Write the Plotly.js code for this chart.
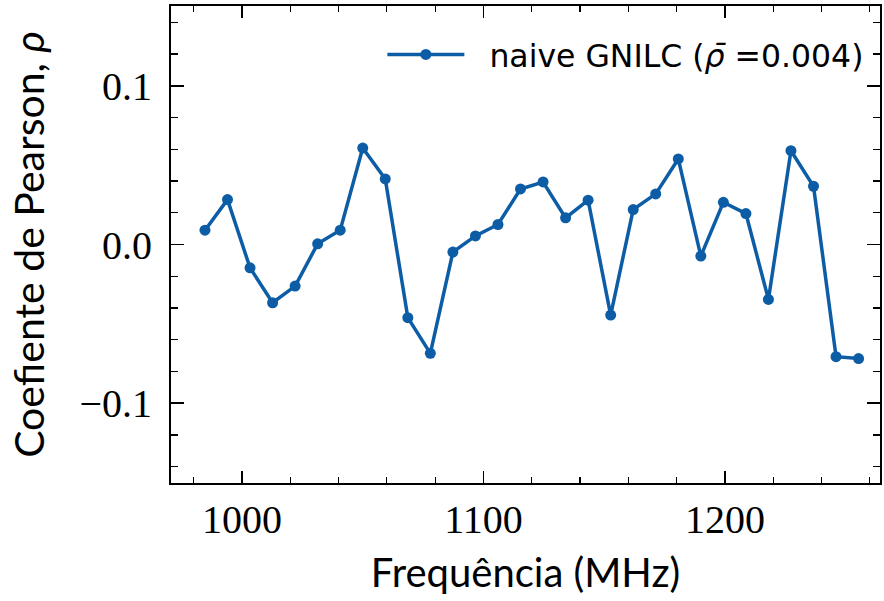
<!DOCTYPE html>
<html>
<head>
<meta charset="utf-8">
<script src="https://cdn.plot.ly/plotly-3.0.1.min.js"></script>
<style>html,body{margin:0;padding:0;background:#fff;}#chart{width:884px;height:601px;}</style>
</head>
<body>
<div id="chart"></div>
<script>
const frequencies = [984.67, 994.0, 1003.33, 1012.67, 1022.0, 1031.33, 1040.67, 1050.0, 1059.33, 1068.67,
  1078.0, 1087.33, 1096.67, 1106.0, 1115.33, 1124.67, 1134.0, 1143.33, 1152.67, 1162.0,
  1171.33, 1180.67, 1190.0, 1199.33, 1208.67, 1218.0, 1227.33, 1236.67, 1246.0, 1255.33];
const pearson = [0.009, 0.0283, -0.0147, -0.0367, -0.0262, 0.0004, 0.009, 0.0608, 0.0413, -0.0461,
  -0.0686, -0.0048, 0.0054, 0.0126, 0.035, 0.0394, 0.0168, 0.0279, -0.0445, 0.022,
  0.0319, 0.0539, -0.0073, 0.0266, 0.0195, -0.0346, 0.0591, 0.0367, -0.0707, -0.0719];
const seriesName = '\u00A0\u00A0naive GNILC (<i>ρ̄</i> =0.004)';
const xTickVals = [1000, 1100, 1200];
const xTickText = ['1000', '1100', '1200'];
const yTickVals = [-0.1, 0.0, 0.1];
const yTickText = ['−0.1', '0.0', '0.1'];

const color = '#0C5DA5';
const trace = {
  x: frequencies, y: pearson, type: 'scatter', mode: 'lines+markers',
  name: seriesName,
  line: {color: color, width: 3.5},
  marker: {color: color, size: 11}
};
const tickFont = {family: '"Liberation Serif", "DejaVu Serif", serif', size: 40, color: '#000'};
const titleFont = {family: 'Lato, "Noto Sans", sans-serif', size: 40, color: '#000'};
const yTitleFont = {family: 'Lato, "Noto Sans", sans-serif', size: 41, color: '#000'};
const layout = {
  width: 884, height: 601,
  margin: {l: 171, r: 4, t: 6, b: 118},
  paper_bgcolor: '#fff', plot_bgcolor: '#fff',
  showlegend: true,
  legend: {x: 0.985, y: 0.955, xanchor: 'right', yanchor: 'top', bgcolor: 'rgba(0,0,0,0)',
    font: {family: '"DejaVu Sans", sans-serif', size: 31.5, color: '#000'}, itemwidth: 77},
  xaxis: {
    range: [970.6, 1264.2], showgrid: false, zeroline: false,
    showline: true, linecolor: '#000', linewidth: 2, mirror: 'allticks',
    ticks: 'inside', ticklen: 12, tickwidth: 1.5, tickcolor: '#000',
    tickvals: xTickVals, ticktext: xTickText, tickfont: tickFont, ticklabelstandoff: 0,
    minor: {dtick: 20, tick0: 1000, ticks: 'inside', ticklen: 6, tickwidth: 1.2, tickcolor: '#000'},
    title: {text: 'Frequência (MHz)', font: titleFont, standoff: 18}
  },
  yaxis: {
    range: [-0.1503, 0.1503], showgrid: false, zeroline: false,
    showline: true, linecolor: '#000', linewidth: 2, mirror: 'allticks',
    ticks: 'inside', ticklen: 13, tickwidth: 1.5, tickcolor: '#000',
    tickvals: yTickVals, ticktext: yTickText, tickfont: tickFont, ticklabelstandoff: 9,
    minor: {dtick: 0.02, tick0: 0, ticks: 'inside', ticklen: 7, tickwidth: 1.2, tickcolor: '#000'},
    title: {text: 'Coefiente de Pearson, <i>ρ</i>', font: yTitleFont, standoff: 22}
  }
};
Plotly.newPlot('chart', [trace], layout, {displayModeBar: false, staticPlot: true});
</script>
</body>
</html>
